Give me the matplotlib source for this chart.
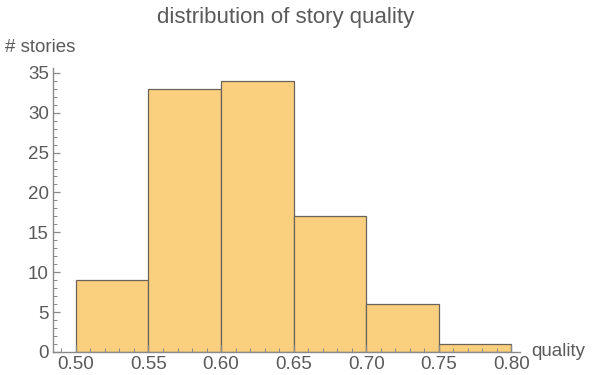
import matplotlib
matplotlib.use("Agg")
import matplotlib.pyplot as plt
from matplotlib.ticker import MultipleLocator

bin_edges = [0.50, 0.55, 0.60, 0.65, 0.70, 0.75, 0.80]
counts = [9, 33, 34, 17, 6, 1]
x_ticks = [0.50, 0.55, 0.60, 0.65, 0.70, 0.75, 0.80]
y_ticks = [0, 5, 10, 15, 20, 25, 30, 35]

plt.rcParams["font.family"] = ["Liberation Sans", "DejaVu Sans"]
grey = "#5a5a5a"
axis_grey = "#8a8a8a"

fig = plt.figure(figsize=(5.96, 3.75), dpi=100)
ax = fig.add_axes([53 / 596, 1 - 352 / 375, (520 - 53) / 596, (352 - 68) / 375])

lefts = bin_edges[:-1]
widths = [b - a for a, b in zip(bin_edges[:-1], bin_edges[1:])]
ax.bar(lefts, counts, width=widths, align="edge", color="#FAD07F",
       edgecolor="#6b6259", linewidth=0.9)

ax.set_xlim(0.4842, 0.806)
ax.set_ylim(0, 35.6)
ax.set_xticks(x_ticks)
ax.set_xticklabels([f"{t:.2f}" for t in x_ticks])
ax.set_yticks(y_ticks)
ax.xaxis.set_minor_locator(MultipleLocator(0.01))
ax.yaxis.set_minor_locator(MultipleLocator(1))

for side in ("top", "right"):
    ax.spines[side].set_visible(False)
for side in ("left", "bottom"):
    ax.spines[side].set_color(axis_grey)
    ax.spines[side].set_linewidth(1.0)

ax.tick_params(which="major", direction="in", length=5, width=0.9,
               color=axis_grey, labelcolor=grey, labelsize=13.5, pad=3)
ax.tick_params(which="minor", direction="in", length=3, width=0.7,
               color=axis_grey)

fig.text(0.48, 1 - 17 / 375, "distribution of story quality", ha="center",
         va="center", fontsize=16, color=grey)
fig.text(5 / 596, 1 - 47 / 375, "# stories", ha="left", va="center",
         fontsize=13.5, color=grey)
fig.text(531 / 596, 1 - 352 / 375, "quality", ha="left", va="center",
         fontsize=13.5, color=grey)

fig.savefig("out.png", dpi=100)
